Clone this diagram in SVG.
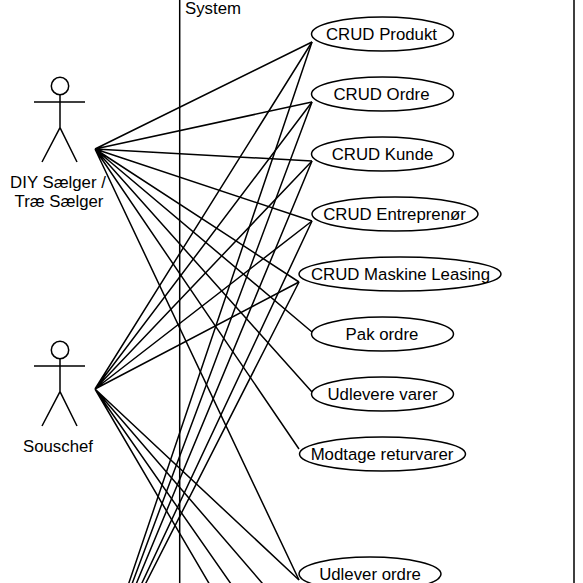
<svg xmlns="http://www.w3.org/2000/svg" width="583" height="583" viewBox="0 0 583 583">
<style>
.l{stroke:#000;stroke-width:1.5;fill:none}
.e{stroke:#000;stroke-width:1.5;fill:#fff}
text{font-family:"Liberation Sans",Arial,sans-serif;font-size:16.8px;fill:#000;text-anchor:middle}
</style>
<defs>
<g id="stick" class="l"><circle cx="60" cy="86" r="8.7"/><path d="M60 95V127.7M34 102H85M60 127.7L42 162M60 127.7L77 162"/></g>
</defs>
<rect width="583" height="583" fill="#fff"/>
<g id="boundary"><path class="l" d="M179.7 0V583M574 0V583"/><text x="185" y="14" style="text-anchor:start">System</text></g>
<g id="connectors" class="l">
<path d="M95 149L312 42M95 149L312 102M95 149L312 161M95 149L312 221M95 149L299 282M95 149L312 332M95 149L312 392M95 149L299 449M95 149L299 580"/>
<path d="M95 389L312 42M95 389L312 102M95 389L312 161M95 389L312 221M95 389L299 282M95 389L299 580M95 389L312 641M95 389L312 700M95 389L312 759"/>
<path d="M95 683L312 42M95 683L312 102M95 683L312 161M95 683L312 221M95 683L299 282"/>
</g>
<g id="actor-diy"><use href="#stick"/><text x="58" y="188">DIY Sælger /</text><text x="59" y="207">Træ Sælger</text></g>
<g id="actor-souschef"><use href="#stick" y="264"/><text x="58" y="452">Souschef</text></g>
<g id="uc-produkt"><ellipse class="e" cx="382.5" cy="34" rx="71" ry="17"/><text x="381.5" y="40">CRUD Produkt</text></g>
<g id="uc-ordre"><ellipse class="e" cx="382.5" cy="94" rx="71" ry="17"/><text x="381.5" y="100">CRUD Ordre</text></g>
<g id="uc-kunde"><ellipse class="e" cx="382.5" cy="154" rx="71" ry="17"/><text x="382.5" y="160">CRUD Kunde</text></g>
<g id="uc-entreprenoer"><ellipse class="e" cx="395" cy="214" rx="83" ry="17"/><text x="394.5" y="220">CRUD Entreprenør</text></g>
<g id="uc-maskine"><ellipse class="e" cx="400" cy="274" rx="101" ry="17"/><text x="400.5" y="280">CRUD Maskine Leasing</text></g>
<g id="uc-pak"><ellipse class="e" cx="382.5" cy="334" rx="71" ry="17"/><text x="382" y="340">Pak ordre</text></g>
<g id="uc-udlevere"><ellipse class="e" cx="382.5" cy="394" rx="71" ry="17"/><text x="382.5" y="400">Udlevere varer</text></g>
<g id="uc-modtage"><ellipse class="e" cx="382.5" cy="454" rx="83" ry="17"/><text x="382" y="460">Modtage returvarer</text></g>
<g id="uc-udlever"><ellipse class="e" cx="370" cy="574" rx="71" ry="17"/><text x="370" y="580">Udlever ordre</text></g>
</svg>
